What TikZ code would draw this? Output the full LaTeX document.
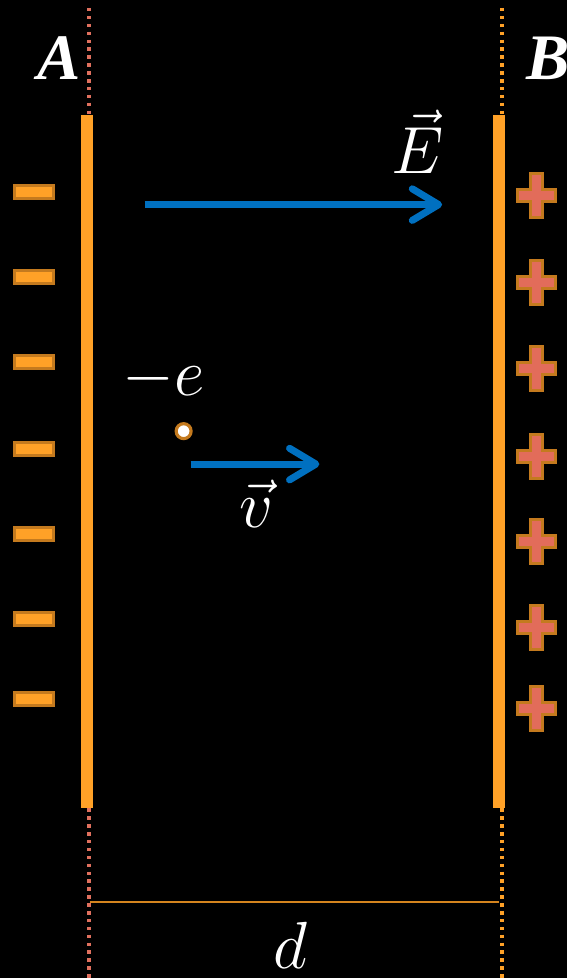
\RequirePackage{fix-cm}
\documentclass[tikz,border=0pt]{standalone}
\usepackage{amsmath}
\usepackage{fontspec}
\newfontfamily\platefont{Liberation Serif}
\usetikzlibrary{arrows.meta}

\definecolor{plateorange}{HTML}{FFA127}
\definecolor{rimorange}{HTML}{C47A1E}
\definecolor{plusred}{HTML}{E26C5A}
\definecolor{dotred}{HTML}{E0705E}
\definecolor{fieldblue}{HTML}{0070C0}
\definecolor{gapline}{HTML}{D4841E}

\begin{document}
\begin{tikzpicture}[
  x=0.02cm,
  y=-0.02cm,
  every node/.style={text=white, inner sep=0pt},
  plate/.style={fill=plateorange, minimum width=0.24cm, minimum height=13.9cm},
  minussign/.style={draw=rimorange, fill=plateorange, line width=1.7pt,
    minimum width=0.78cm, minimum height=0.26cm},
  electron/.style={circle, draw=rimorange, fill=white, line width=1.8pt,
    minimum size=0.3cm},
  platelabel/.style={font=\platefont\bfseries\itshape\fontsize{37}{40}\selectfont},
  mathlabel/.style={font=\fontsize{38}{40}\selectfont},
  dotleft/.style={dotred, line width=2.2pt, dash pattern=on 2pt off 2.5pt},
  dotright/.style={plateorange, line width=2.2pt, dash pattern=on 2pt off 2.5pt},
  arrow/.style={fieldblue, line width=4pt,
    -{Straight Barb[length=15pt, width=18pt, round]}},
  plussign/.pic={
    \filldraw[draw=rimorange, fill=plusred, line width=1.7pt]
      (-6,-22) -- (6,-22) -- (6,-6) -- (19,-6) -- (19,6) -- (6,6) -- (6,22)
      -- (-6,22) -- (-6,6) -- (-19,6) -- (-19,-6) -- (-6,-6) -- cycle;
  }
]
\fill[black] (0,0) rectangle (568,980);

% plates and their planes
\draw[dotleft] (89,8) -- (89,115);
\draw[dotleft] (89,810) -- (89,980);
\draw[dotright] (503,8) -- (503,115);
\draw[dotright] (503,810) -- (503,980);
\node[plate] (plateA) at (87,462.5) {};
\node[plate] (plateB) at (500,462.5) {};

\node[platelabel] (labelA) at (59,58) {A};
\node[platelabel] (labelB) at (549,58) {B};

% charges on plate A
\node[minussign] (minus1) at (34,192) {};
\node[minussign] (minus2) at (34,278) {};
\node[minussign] (minus3) at (34,363) {};
\node[minussign] (minus4) at (34,450) {};
\node[minussign] (minus5) at (34,535) {};
\node[minussign] (minus6) at (34,620) {};
\node[minussign] (minus7) at (34,700) {};

% charges on plate B
\pic (plus1) at (538,196) {plussign};
\pic (plus2) at (538,283) {plussign};
\pic (plus3) at (538,369) {plussign};
\pic (plus4) at (538,457) {plussign};
\pic (plus5) at (538,543) {plussign};
\pic (plus6) at (538,629) {plussign};
\pic (plus7) at (538,710) {plussign};

% field
\coordinate (Etail) at (145,205);
\coordinate (Ehead) at (443,205);
\draw[arrow] (Etail) -- (Ehead);
\node[mathlabel] (labelE) at (418,142) {$\vec{E}$};

% electron
\node[electron] (electron) at (184,432) {};
\node[mathlabel] (labele) at (164,380) {$-e$};
\coordinate (vtail) at (191,465);
\coordinate (vhead) at (320,465);
\draw[arrow] (vtail) -- (vhead);
\node[mathlabel] (labelv) at (257,505) {$\vec{v}$};

% gap
\coordinate (gapA) at (90,904);
\coordinate (gapB) at (500,904);
\draw[gapline, line width=0.9pt] (gapA) -- (gapB);
\node[mathlabel] (labeld) at (291,947) {$d$};
\end{tikzpicture}
\end{document}
